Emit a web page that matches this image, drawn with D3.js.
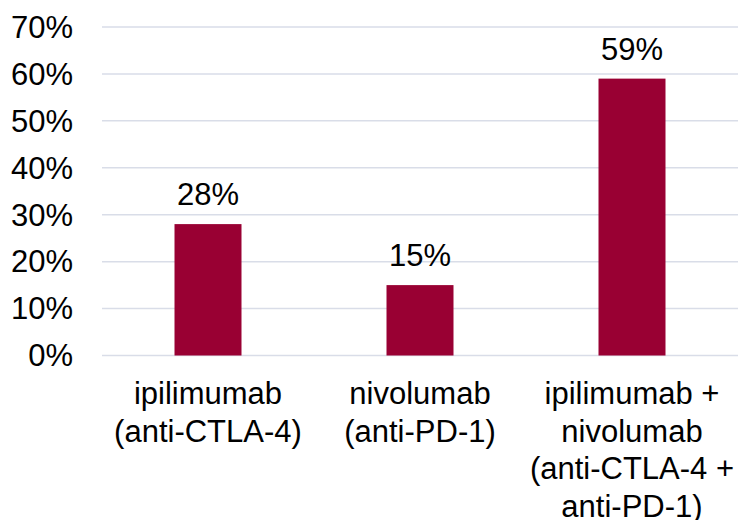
<!DOCTYPE html>
<html>
<head>
<meta charset="utf-8">
<script src="https://cdn.jsdelivr.net/npm/d3@7"></script>
<style>
  html, body { margin: 0; padding: 0; background: #fff; }
  svg { display: block; font-family: "Liberation Sans", Arial, sans-serif; }
</style>
</head>
<body>
<svg id="chart" width="740" height="520"></svg>
<script>
// Response rate by treatment
const categories = ["ipilimumab", "nivolumab", "ipilimumab + nivolumab"];
const categoryLines = [
  ["ipilimumab", "(anti-CTLA-4)"],
  ["nivolumab", "(anti-PD-1)"],
  ["ipilimumab +", "nivolumab", "(anti-CTLA-4 +", "anti-PD-1)"]
];
const values = [0.28, 0.15, 0.59];
const yTicks = [0, 0.1, 0.2, 0.3, 0.4, 0.5, 0.6, 0.7];

const svg = d3.select("#chart");
const plotLeft = 102, plotRight = 738, plotTop = 27, plotBottom = 355.5;
const fontSize = 31;

const x = d3.scaleBand()
  .domain(categories)
  .range([plotLeft, plotRight])
  .paddingInner(0.684)
  .paddingOuter(0.342);

const y = d3.scaleLinear()
  .domain([0, 0.7])
  .range([plotBottom, plotTop]);

const pct = d3.format(".0%");

// horizontal gridlines
svg.append("g")
  .selectAll("line")
  .data(yTicks)
  .join("line")
  .attr("x1", plotLeft)
  .attr("x2", plotRight)
  .attr("y1", d => y(d))
  .attr("y2", d => y(d))
  .attr("stroke", "#d9dde8")
  .attr("stroke-width", 1.5);

// y-axis tick labels
svg.append("g")
  .selectAll("text")
  .data(yTicks)
  .join("text")
  .attr("x", 73)
  .attr("y", d => y(d))
  .attr("dy", "0.35em")
  .attr("text-anchor", "end")
  .attr("font-size", fontSize)
  .attr("fill", "#000")
  .text(d => pct(d));

// bars
svg.append("g")
  .selectAll("rect")
  .data(values)
  .join("rect")
  .attr("x", (d, i) => x(categories[i]))
  .attr("width", x.bandwidth())
  .attr("y", d => y(d))
  .attr("height", d => y(0) - y(d))
  .attr("fill", "#990033");

// value labels
svg.append("g")
  .selectAll("text")
  .data(values)
  .join("text")
  .attr("x", (d, i) => x(categories[i]) + x.bandwidth() / 2)
  .attr("y", d => y(d) - 19)
  .attr("text-anchor", "middle")
  .attr("font-size", fontSize)
  .attr("fill", "#000")
  .text(d => pct(d));

// category labels, one tspan per line
const cat = svg.append("g")
  .selectAll("text")
  .data(categories)
  .join("text")
  .attr("text-anchor", "middle")
  .attr("font-size", fontSize)
  .attr("fill", "#000")
  .attr("x", d => x(d) + x.bandwidth() / 2)
  .attr("y", plotBottom + 48.5);

cat.selectAll("tspan")
  .data((d, i) => categoryLines[i].map(t => ({ t, cx: x(d) + x.bandwidth() / 2 })))
  .join("tspan")
  .attr("x", d => d.cx)
  .attr("dy", (d, i) => i === 0 ? 0 : 37.5)
  .text(d => d.t);
</script>
</body>
</html>
